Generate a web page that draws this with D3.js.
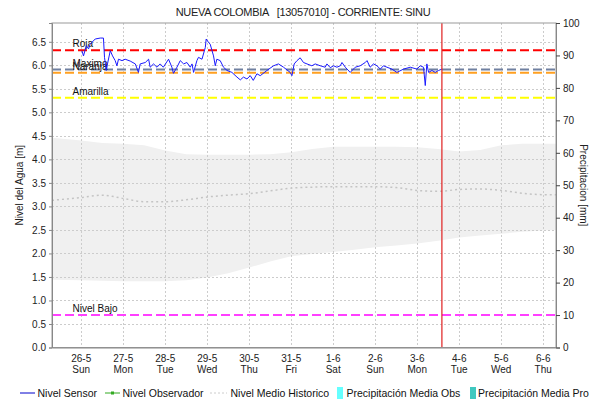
<!DOCTYPE html>
<html><head><meta charset="utf-8">
<script src="https://cdn.jsdelivr.net/npm/d3@7"></script>
<style>body{margin:0;background:#fff}svg{display:block;font-family:"Liberation Sans",Arial,sans-serif}</style>
</head><body><svg id="c" width="590" height="404"></svg>
<script>
// ---- data ----
const baseDate = "2019-05-26T00:00:00";
const domainStart = "2019-05-25T07:18:00";
const domainEnd = "2019-06-06T07:18:00";
const nowTime = "2019-06-03T14:06:00";
const dayTicks = ["2019-05-26","2019-05-27","2019-05-28","2019-05-29","2019-05-30","2019-05-31","2019-06-01","2019-06-02","2019-06-03","2019-06-04","2019-06-05","2019-06-06"];
const levelTicks = [0,0.5,1,1.5,2,2.5,3,3.5,4,4.5,5,5.5,6,6.5];
const precipTicks = [0,10,20,30,40,50,60,70,80,90,100];

// sensor: hours after baseDate, level [m]
const sensorHours = [0.4,1.3,2.9,4.2,5.1,8.0,10.9,12.7,13.3,14.3,15.0,16.6,17.9,19.4,20.4,21.3,23.3,25.1,28.0,30.9,32.7,33.7,36.6,38.5,39.4,41.3,43.3,45.1,46.9,49.9,51.8,52.7,54.7,56.6,58.5,60.4,62.3,63.3,64.2,66.1,67.0,69.0,70.9,71.4,72.7,73.7,75.6,76.6,77.5,79.4,81.3,83.3,86.1,89.0,90.9,92.7,94.7,96.6,98.3,100.4,102.3,106.1,109.9,112.7,115.6,119.4,120.4,121.7,123.3,125.1,127.0,129.0,131.8,133.7,136.6,139.4,140.4,142.3,144.2,146.1,148.0,149.0,150.9,153.7,156.6,159.4,162.3,163.3,165.1,167.0,169.0,170.9,172.7,174.7,177.5,180.4,184.2,188.0,191.8,193.7,195.6,196.6,197.5,198.5,200.4,202.3,204.2,206.1];
const sensorLevel = [6.31,6.20,6.42,6.35,6.45,6.56,6.58,6.58,6.17,5.89,6.03,6.31,6.20,6.10,5.99,6.13,6.10,6.13,6.09,6.03,5.85,6.03,6.06,6.13,5.96,6.03,5.96,6.03,5.96,6.13,5.96,5.83,5.96,6.10,6.03,6.06,5.96,6.03,5.85,6.10,6.17,6.13,6.38,6.56,6.49,6.45,6.20,5.99,6.13,6.10,5.96,5.89,5.85,5.75,5.69,5.75,5.71,5.78,5.68,5.82,5.78,5.89,5.99,6.03,5.96,5.85,5.78,6.03,6.10,6.16,6.06,6.03,5.99,6.03,5.99,5.96,6.03,5.95,5.99,5.96,5.99,6.06,5.96,5.85,5.96,5.99,6.06,6.10,5.96,6.03,5.99,5.92,5.99,5.96,5.92,5.85,5.92,5.96,5.92,5.99,5.96,5.57,6.03,5.85,5.89,5.85,5.89,5.92];

// historic: hours after baseDate
const histHours = [-16.7,0,12,24,36,48,60,72,84,96,108,120,132,144,156,168,180,192,204,216,228,240,252,264,271.3];
const histUpper = [4.46,4.40,4.35,4.33,4.30,4.19,4.11,4.10,4.10,4.10,4.11,4.15,4.22,4.27,4.27,4.27,4.27,4.26,4.22,4.17,4.20,4.30,4.33,4.33,4.33];
const histLower = [1.44,1.43,1.42,1.41,1.41,1.41,1.43,1.49,1.58,1.70,1.83,1.94,1.99,2.03,2.08,2.13,2.17,2.21,2.27,2.34,2.38,2.42,2.46,2.49,2.50];
const histMedian = [3.13,3.19,3.24,3.17,3.10,3.10,3.14,3.20,3.24,3.27,3.33,3.39,3.41,3.42,3.42,3.42,3.40,3.34,3.32,3.36,3.37,3.34,3.28,3.25,3.25];

const thresholdNames = ["Roja","Maximo","Naranja","Amarilla","Nivel Bajo"];
const thresholdValues = [6.32,5.91,5.84,5.31,0.69];
const thresholdColors = ["#ff0000","#7080a0","#ffa020","#ffff00","#ff40ff"];

const legendNames = ["Nivel Sensor","Nivel Observador","Nivel Medio Historico","Precipitación Media Obs","Precipitación Media Pro"];

// ---- chart ----
const svg = d3.select("#c");
const L = 52, R = 556, T = 23, B = 347.5;
const base = new Date(baseDate);
const hrs = h => new Date(base.getTime() + h * 3600e3);
const x = d3.scaleTime().domain([new Date(domainStart), new Date(domainEnd)]).range([L, R]);
const y = d3.scaleLinear().domain([0, 6.9]).range([B, T]);
const y2 = d3.scaleLinear().domain([0, 100]).range([B, T]);

// title
svg.append("text").attr("x", 303).attr("y", 15.5).attr("text-anchor", "middle")
  .style("font-size", "11px").style("letter-spacing", "-0.3px").style("white-space", "pre").attr("fill", "#222")
  .text("NUEVA COLOMBIA   [13057010] - CORRIENTE: SINU");

const g = svg.append("g");
// historic band
const hist = histHours.map((h, i) => ({t: hrs(h), u: histUpper[i], l: histLower[i], m: histMedian[i]}));
g.append("path").datum(hist).attr("fill", "#f0f0f0")
  .attr("d", d3.area().x(d => x(d.t)).y0(d => y(d.l)).y1(d => y(d.u)));

// grid
const dayDates = dayTicks.map(d => new Date(d + "T00:00:00"));
g.selectAll(".vg").data(dayDates).join("line")
  .attr("x1", d => Math.round(x(d)) + 0.5).attr("x2", d => Math.round(x(d)) + 0.5)
  .attr("y1", T).attr("y2", B).attr("stroke", "#cccccc").attr("stroke-dasharray", "2,2");
g.selectAll(".hg").data(levelTicks.filter(v => v > 0)).join("line")
  .attr("x1", L).attr("x2", R).attr("y1", d => Math.round(y(d)) + 0.5).attr("y2", d => Math.round(y(d)) + 0.5)
  .attr("stroke", "#cccccc").attr("stroke-dasharray", "2,2");

// median
g.append("path").datum(hist).attr("fill", "none").attr("stroke", "#c4c4c4").attr("stroke-width", 1.5)
  .attr("stroke-dasharray", "2,3")
  .attr("d", d3.line().curve(d3.curveMonotoneX).x(d => x(d.t)).y(d => y(d.m)));

// thresholds
thresholdValues.forEach((v, i) => {
  g.append("line").attr("x1", L).attr("x2", R).attr("y1", y(v)).attr("y2", y(v))
    .attr("stroke", thresholdColors[i]).attr("stroke-width", 2).attr("stroke-dasharray", "9,4");
});
thresholdValues.forEach((v, i) => {
  g.append("text").attr("x", 72.5).attr("y", y(v) - 3).style("font-size", "10px").attr("fill", "#111")
    .text(thresholdNames[i]);
});

// sensor
const sensor = sensorHours.map((h, i) => ({t: hrs(h), v: sensorLevel[i]}));
g.append("path").datum(sensor).attr("fill", "none").attr("stroke", "#1a1aff").attr("stroke-width", 1)
  .attr("d", d3.line().x(d => x(d.t)).y(d => y(d.v)));

// now line
g.append("line").attr("x1", x(new Date(nowTime))).attr("x2", x(new Date(nowTime)))
  .attr("y1", T).attr("y2", B).attr("stroke", "#e02020").attr("stroke-width", 1.2);

// frame
svg.append("rect").attr("x", L).attr("y", T).attr("width", R - L).attr("height", B - T)
  .attr("fill", "none").attr("stroke", "#999");

// left axis
const ax = svg.append("g").attr("transform", `translate(${L},0)`)
  .call(d3.axisLeft(y).tickValues(levelTicks).tickFormat(d3.format(".1f")).tickSize(3).tickPadding(3));
ax.select(".domain").attr("stroke", "#888");
ax.selectAll("line").attr("stroke", "#888");
ax.selectAll("text").style("font-size", "10px").attr("fill", "#222").style("font-family", "inherit");

// right axis
const ar = svg.append("g").attr("transform", `translate(${R},0)`)
  .call(d3.axisRight(y2).tickValues(precipTicks).tickSize(4).tickPadding(3));
ar.select(".domain").attr("stroke", "#888");
ar.selectAll("line").attr("stroke", "#444");
ar.selectAll("text").style("font-size", "10px").attr("fill", "#222").style("font-family", "inherit");

// bottom axis
const fmtDate = d3.timeFormat("%-d-%-m"), fmtDay = d3.timeFormat("%a");
const ab = svg.append("g").attr("transform", `translate(0,${B})`)
  .call(d3.axisBottom(x).tickValues(dayDates).tickSize(0).tickFormat(""));
ab.select(".domain").attr("stroke", "#888");
const xl = svg.append("g");
xl.selectAll(".d1").data(dayDates).join("text").attr("x", d => x(d)).attr("y", 361.5)
  .attr("text-anchor", "middle").style("font-size", "10px").attr("fill", "#222").text(d => fmtDate(d));
xl.selectAll(".d2").data(dayDates).join("text").attr("x", d => x(d)).attr("y", 372.5)
  .attr("text-anchor", "middle").style("font-size", "10px").attr("fill", "#222").text(d => fmtDay(d));

// axis titles
svg.append("text").attr("transform", `translate(23,${(T + B) / 2}) rotate(-90)`).attr("text-anchor", "middle")
  .style("font-size", "10px").attr("fill", "#222").text("Nivel del Agua [m]");
svg.append("text").attr("transform", `translate(580,${(T + B) / 2}) rotate(90)`).attr("text-anchor", "middle")
  .style("font-size", "10px").attr("fill", "#222").text("Precipitacion [mm]");

// legend
const ly = 393;
const lg = svg.append("g").style("font-size", "10.5px");
lg.append("line").attr("x1", 20).attr("x2", 35).attr("y1", ly).attr("y2", ly).attr("stroke", "#0000cc").attr("stroke-width", 1);
lg.append("text").attr("x", 37.5).attr("y", ly + 4).attr("fill", "#111").text(legendNames[0]);
lg.append("line").attr("x1", 105).attr("x2", 120).attr("y1", ly).attr("y2", ly).attr("stroke", "#33aa22").attr("stroke-width", 1);
lg.append("rect").attr("x", 111).attr("y", ly - 1.5).attr("width", 3).attr("height", 3).attr("fill", "#33aa22");
lg.append("text").attr("x", 122.5).attr("y", ly + 4).attr("fill", "#111").text(legendNames[1]);
lg.append("line").attr("x1", 210).attr("x2", 227).attr("y1", ly).attr("y2", ly).attr("stroke", "#cccccc").attr("stroke-dasharray", "2,2");
lg.append("text").attr("x", 230.5).attr("y", ly + 4).attr("fill", "#111").text(legendNames[2]);
lg.append("rect").attr("x", 337).attr("y", ly - 6).attr("width", 6).attr("height", 12).attr("fill", "#66ffff");
lg.append("text").attr("x", 346.5).attr("y", ly + 4).attr("fill", "#111").text(legendNames[3]);
lg.append("rect").attr("x", 470).attr("y", ly - 6).attr("width", 6).attr("height", 12).attr("fill", "#40c8c0");
lg.append("text").attr("x", 478).attr("y", ly + 4).attr("fill", "#111").text(legendNames[4]);
</script></body></html>
